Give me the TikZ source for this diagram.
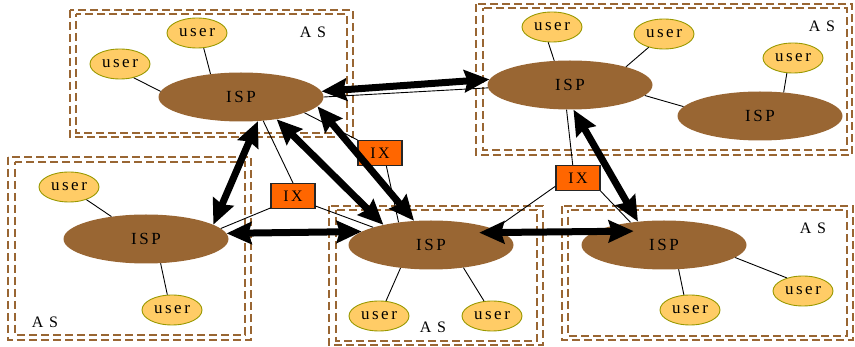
\documentclass[tikz,border=0pt]{standalone}
\usepackage{fontspec}
\setmainfont{Liberation Serif}
\newfontfamily\lblfont[LetterSpace=15]{Liberation Serif}
\newfontfamily\asfont[LetterSpace=35]{Liberation Serif}
\usetikzlibrary{shapes.geometric,arrows.meta}

\definecolor{ispbrown}{HTML}{996633}
\definecolor{userfill}{HTML}{FFCC66}
\definecolor{userline}{HTML}{999900}
\definecolor{ixfill}{HTML}{FF6600}

\tikzset{
  isp/.style={ellipse, fill=ispbrown, minimum width=165pt, minimum height=49pt,
    inner sep=0pt, font=\lblfont\fontsize{17}{17}\selectfont},
  user/.style={ellipse, draw=userline, fill=userfill, line width=0.9pt,
    minimum width=60pt, minimum height=30pt, inner sep=0pt,
    font=\lblfont\fontsize{17}{17}\selectfont},
  ix/.style={rectangle, draw=black!85, fill=ixfill, line width=1.1pt,
    minimum width=44pt, minimum height=25pt, inner sep=0pt,
    font=\lblfont\fontsize{16}{16}\selectfont},
  astext/.style={font=\asfont\fontsize{16}{16}\selectfont, inner sep=0pt},
  asouter/.style={draw=ispbrown, line width=2.8pt, dash pattern=on 8pt off 4pt},
  asinner/.style={draw=ispbrown, line width=1.8pt, dash pattern=on 8pt off 4pt, dash phase=5pt},
  link/.style={line width=0.9pt},
  peer/.style={line width=7pt,
    {Stealth[length=25pt,width=22pt,inset=3pt]}-{Stealth[length=25pt,width=22pt,inset=3pt]}},
}

\begin{document}
\begin{tikzpicture}[x=1pt,y=-1pt]
\useasboundingbox (0,0) rectangle (855,347);

% autonomous system boundaries (double dashed frames)
\draw[asouter] (70,10) rectangle (353,137);
\draw[asinner] (76,14) rectangle (347,133);
\draw[asouter] (476,4) rectangle (852,155);
\draw[asinner] (483,8) rectangle (847,150);
\draw[asouter] (8,157) rectangle (251,340);
\draw[asinner] (15,162) rectangle (245,335);
\draw[asouter] (329,206) rectangle (543,345);
\draw[asinner] (336,210) rectangle (537,341);
\draw[asouter] (562,206) rectangle (853,340);
\draw[asinner] (568,210) rectangle (847,336);

\node[astext] (as1) at (313,32) {AS};
\node[astext] (as2) at (822,26) {AS};
\node[astext] (as3) at (45,322) {AS};
\node[astext] (as4) at (433,327) {AS};
\node[astext] (as5) at (813,228) {AS};

% top-left AS
\node[isp] (tl) at (241,97) {ISP};
\node[user] (tlu1) at (197,33) {user};
\node[user] (tlu2) at (120,64) {user};
% top-right AS
\node[isp] (tr1) at (570,85) {ISP};
\node[isp] (tr2) at (760,116) {ISP};
\node[user] (tru1) at (552,27) {user};
\node[user] (tru2) at (664,34) {user};
\node[user] (tru3) at (793,58) {user};
% bottom-left AS
\node[isp] (bl) at (146,239) {ISP};
\node[user] (blu1) at (69,187) {user};
\node[user] (blu2) at (172,310) {user};
% bottom-middle AS
\node[isp] (bm) at (431,245) {ISP};
\node[user] (bmu1) at (379,316) {user};
\node[user] (bmu2) at (492,316) {user};
% bottom-right AS
\node[isp] (br) at (664,245) {ISP};
\node[user] (bru1) at (690,310) {user};
\node[user] (bru2) at (803,291) {user};
% exchange points
\node[ix] (ix1) at (380,153) {IX};
\node[ix] (ix2) at (293,196) {IX};
\node[ix] (ix3) at (578,178) {IX};

% access links
\draw[link] (tlu1.-66) -- (tl.143);
\draw[link] (tlu2.-45) -- (tl.176);
\draw[link] (tru1.-104) -- (tr1.123);
\draw[link] (tru2.-139) -- (tr1.18);
\draw[link] (tr1.-8) -- (tr2.173);
\draw[link] (tru3.-112) -- (tr2.45);
\draw[link] (blu1.-36) -- (bl.147);
\draw[link] (bl.-59) -- (blu2.107);
\draw[link] (bm.-143) -- (bmu1.65);
\draw[link] (bm.-35) -- (bmu2.118);
\draw[link] (br.-59) -- (bru1.112);
\draw[link] (br.-10) -- (bru2.141);

% links through the exchange points
\draw[link] (tl.-14) -- (ix1.north west);
\draw[link] (ix1.-64) -- (bm.145);
\draw[link] (tl.-47) -- (ix2.north);
\draw[link] (ix2.208) -- (bl.8);
\draw[link] (ix2.-24) -- (bm.163);
\draw[link] (tr1.-98) -- (ix3.112);
\draw[link] (ix3.200) -- (bm.14);
\draw[link] (ix3.-30) -- (br.146);
\draw[link] (tl.0) -- (tr1.182);

% peering links
\draw[peer] (tl.4) -- (tr1.176);
\draw[peer] (tl.-55) -- (bl.12);
\draw[peer] (tl.-32) -- (bm.157);
\draw[peer] (tl.-7) -- (bm.125);
\draw[peer] (bl.4) -- (bm.169);
\draw[peer, shorten <=-23pt, shorten >=-39pt] (bm.10) -- (br.169.5);
\draw[peer] (tr1.-82) -- (br.138);
\end{tikzpicture}
\end{document}
